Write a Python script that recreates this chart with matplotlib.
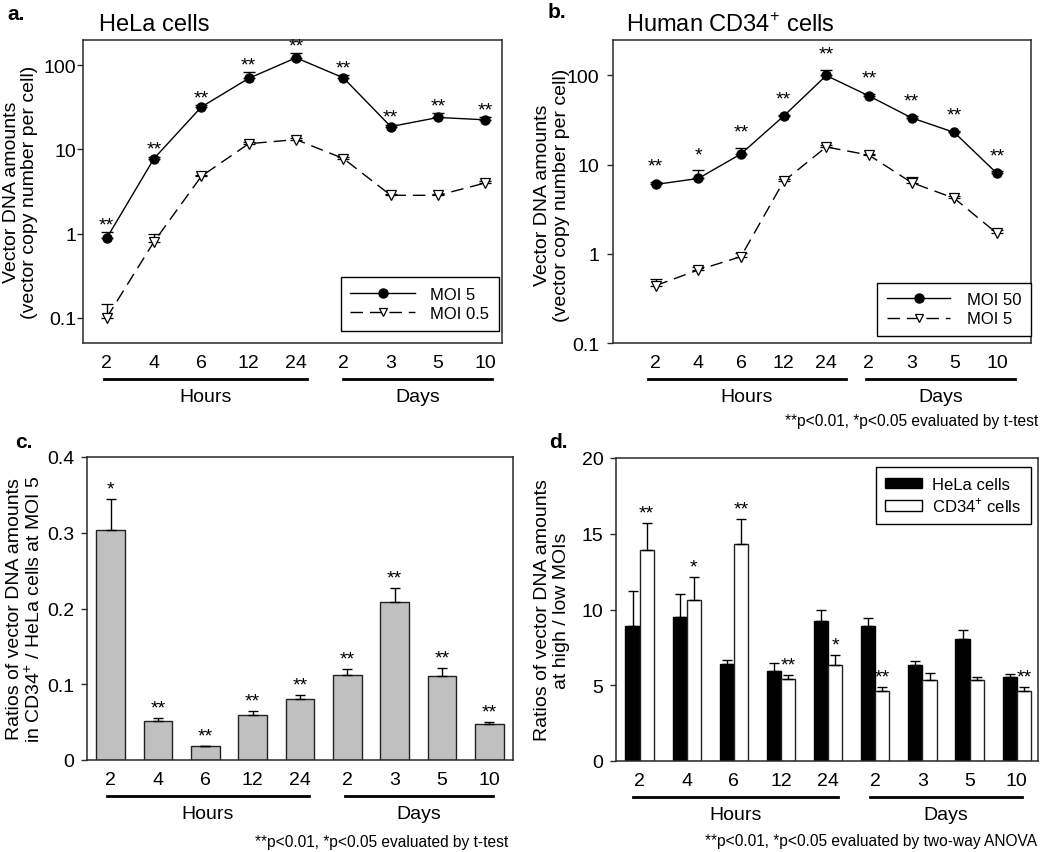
import numpy as np
import matplotlib
matplotlib.use('Agg')
import matplotlib.pyplot as plt
from matplotlib.patches import Patch
from matplotlib.lines import Line2D

plt.rcParams['font.family'] = ['Liberation Sans', 'DejaVu Sans']
plt.rcParams['mathtext.fontset'] = 'custom'
plt.rcParams['mathtext.rm'] = 'Liberation Sans'

# Time points (shared by all panels)
tick_labels = ['2', '4', '6', '12', '24', '2', '3', '5', '10']

# a. HeLa cells
hela_moi5 = [0.88, 7.8, 32, 70, 123, 71, 18.7, 24, 22.5]
hela_moi5_err = [0.15, 0.4, 1.5, 13, 18, 6, 1.0, 3.0, 1.5]
hela_moi05 = [0.1, 0.8, 4.8, 11.7, 13.1, 7.8, 2.85, 2.85, 4.0]
hela_moi05_err = [0.045, 0.2, 0.2, 0.5, 0.5, 0.3, 0.1, 0.1, 0.2]
hela_stars = ['**'] * 9

# b. Human CD34+ cells
cd34_moi50 = [6.0, 7.0, 13.2, 35, 100, 59, 33.5, 23, 8.0]
cd34_moi50_err = [0.4, 1.6, 2.2, 1.5, 16, 3.0, 1.5, 1.0, 0.4]
cd34_moi5 = [0.44, 0.66, 0.93, 6.5, 15.8, 12.8, 6.3, 4.2, 1.7]
cd34_moi5_err = [0.08, 0.05, 0.09, 0.4, 0.8, 0.5, 1.0, 0.2, 0.15]
cd34_stars = ['**', '*', '**', '**', '**', '**', '**', '**', '**']

# c. CD34+ / HeLa ratio at MOI 5
ratio_c = [0.303, 0.051, 0.018, 0.059, 0.080, 0.112, 0.209, 0.111, 0.047]
ratio_c_err = [0.042, 0.004, 0.001, 0.006, 0.006, 0.008, 0.018, 0.011, 0.003]
c_stars = ['*'] + ['**'] * 8

# d. high / low MOI ratio
hela_ratio = [8.9, 9.5, 6.4, 5.95, 9.25, 8.92, 6.35, 8.06, 5.53]
hela_ratio_err = [2.3, 1.55, 0.25, 0.52, 0.73, 0.53, 0.27, 0.6, 0.24]
cd34_ratio = [13.9, 10.6, 14.3, 5.4, 6.35, 4.65, 5.35, 5.33, 4.65]
cd34_ratio_err = [1.8, 1.55, 1.7, 0.3, 0.62, 0.26, 0.44, 0.24, 0.26]
d_stars = ['**', '*', '**', '**', '*', '**', '', '', '**']

x = np.arange(len(tick_labels))
W, H = 1050, 853
fig = plt.figure(figsize=(W / 100, H / 100), dpi=100)
spine_col = '#2a2a2a'
foot_size = 11.2


def px_axes(left, top, right, bottom):
    return fig.add_axes([left / W, 1 - bottom / H, (right - left) / W, (bottom - top) / H])


def style(ax, ypad):
    for s in ax.spines.values():
        s.set_color(spine_col)
        s.set_linewidth(1.1)
    ax.set_xticks(x)
    ax.set_xticklabels(tick_labels)
    ax.tick_params(axis='x', length=0, pad=8, labelsize=14)
    ax.tick_params(axis='y', direction='out', length=4, width=1, pad=ypad,
                   labelsize=14, color=spine_col)


def groups(ax, hours, days):
    tr = ax.transAxes
    for (a, b), name in [(hours, 'Hours'), (days, 'Days')]:
        ax.plot([a, b], [-0.118, -0.118], color='black', lw=2, transform=tr, clip_on=False)
        ax.text((a + b) / 2, -0.178, name, transform=tr, ha='center', va='center', fontsize=14)


def stars(ax, xs, tops, marks, offset):
    for xi, t, m in zip(xs, tops, marks):
        if m:
            ax.annotate(m, xy=(xi, t), xytext=(0, offset), textcoords='offset points',
                        ha='center', va='baseline', fontsize=14)


def legend(ax, handles, labels, **kw):
    leg = ax.legend(handles, labels, fontsize=12, labelspacing=0.25, borderpad=0.58,
                    fancybox=False, framealpha=1, edgecolor='black', borderaxespad=0, **kw)
    leg.get_frame().set_linewidth(1)


def line_panel(ax, y1, e1, y2, e2):
    z = np.zeros(len(x))
    ax.errorbar(x, y2, yerr=[z, e2], color='black', lw=1, ls=(0, (9, 5)),
                marker='v', ms=7, mfc='white', mec='black', mew=0.9,
                ecolor='black', elinewidth=1, capsize=4, capthick=1)
    ax.errorbar(x, y1, yerr=[z, e1], color='black', lw=1, marker='o', ms=6.5,
                mfc='black', mec='black', ecolor='black', elinewidth=1,
                capsize=4, capthick=1)
    ax.set_yscale('log')
    ax.set_yticks([0.1, 1, 10, 100])
    ax.set_yticklabels(['0.1', '1', '10', '100'])
    ax.minorticks_off()
    h1 = Line2D([], [], color='black', lw=1, marker='o', ms=6.5)
    h2 = Line2D([], [], color='black', lw=1, ls=(0, (9, 5)), marker='v', ms=6,
                mfc='white', mew=0.9)
    return [h1, h2]


# ---- a ----
axa = px_axes(83, 41, 502, 344)
ha = line_panel(axa, hela_moi5, hela_moi5_err, hela_moi05, hela_moi05_err)
axa.set_ylim(0.05, 200)
axa.set_xlim(-0.5, 8.35)
style(axa, 1)
stars(axa, x, np.array(hela_moi5) + np.array(hela_moi5_err), hela_stars, 2)
legend(axa, ha, ['MOI 5', 'MOI 0.5'], loc='lower right', bbox_to_anchor=(0.993, 0.04),
       handlelength=3.9, handletextpad=0.9)
groups(axa, (0.05, 0.535), (0.62, 0.976))
axa.text(-0.15, 0.5, 'Vector DNA amounts\n(vector copy number per cell)', transform=axa.transAxes,
         rotation=90, ha='center', va='center', fontsize=14, linespacing=1.1)
fig.text(99 / W, 1 - 25 / H, 'HeLa cells', fontsize=17, ha='left', va='center')
fig.text(7 / W, 1 - 14 / H, 'a.', fontsize=15, fontweight='bold', ha='left', va='center')

# ---- b ----
axb = px_axes(613, 41, 1031, 344)
hb = line_panel(axb, cd34_moi50, cd34_moi50_err, cd34_moi5, cd34_moi5_err)
axb.set_ylim(0.1, 250)
axb.set_xlim(-1.0, 8.8)
style(axb, 6)
stars(axb, x, np.array(cd34_moi50) + np.array(cd34_moi50_err), cd34_stars, 8)
legend(axb, hb, ['MOI 50', 'MOI 5'], loc='lower right', bbox_to_anchor=(1.0, 0.023),
       handlelength=3.8, handletextpad=1.0)
groups(axb, (0.084, 0.557), (0.605, 0.962))
axb.text(-0.146, 0.49, 'Vector DNA amounts\n(vector copy number per cell)', transform=axb.transAxes,
         rotation=90, ha='center', va='center', fontsize=14, linespacing=1.1)
fig.text(626 / W, 1 - 25 / H, 'Human CD34$^{+}$ cells', fontsize=17, ha='left', va='center')
fig.text(548 / W, 1 - 12 / H, 'b.', fontsize=15, fontweight='bold', ha='left', va='center')
fig.text(1038 / W, 1 - 422 / H, '**p<0.01, *p<0.05 evaluated by t-test', fontsize=foot_size,
         ha='right', va='center')

# ---- c ----
axc = px_axes(87, 458, 513, 761)
z = np.zeros(len(x))
axc.bar(x, ratio_c, width=0.6, color='#c0c0c0', edgecolor='#222222', lw=1,
        yerr=[z, ratio_c_err], capsize=3.5, error_kw=dict(elinewidth=1, capthick=1, ecolor='black'))
axc.set_ylim(0, 0.4)
axc.set_xlim(-0.5, 8.5)
axc.set_yticks([0, 0.1, 0.2, 0.3, 0.4])
axc.set_yticklabels(['0', '0.1', '0.2', '0.3', '0.4'])
style(axc, 5)
stars(axc, x, np.array(ratio_c) + np.array(ratio_c_err), c_stars, 4)
groups(axc, (0.047, 0.521), (0.606, 0.953))
axc.text(-0.146, 0.5, 'Ratios of vector DNA amounts\nin CD34$^{+}$ / HeLa cells at MOI 5',
         transform=axc.transAxes, rotation=90, ha='center', va='center', fontsize=14,
         linespacing=1.1)
fig.text(15 / W, 1 - 443 / H, 'c.', fontsize=15, fontweight='bold', ha='left', va='center')
fig.text(508 / W, 1 - 843 / H, '**p<0.01, *p<0.05 evaluated by t-test', fontsize=foot_size,
         ha='right', va='center')

# ---- d ----
axd = px_axes(616, 459, 1038, 762)
bw = 0.3
ek = dict(elinewidth=1, capthick=1, ecolor='black')
axd.bar(x - bw / 2, hela_ratio, width=bw, color='black', edgecolor='black', lw=1,
        yerr=[z, hela_ratio_err], capsize=3.5, error_kw=ek)
axd.bar(x + bw / 2, cd34_ratio, width=bw, color='white', edgecolor='#222222', lw=1,
        yerr=[z, cd34_ratio_err], capsize=3.5, error_kw=ek)
axd.set_ylim(0, 20)
axd.set_xlim(-0.5, 8.45)
axd.set_yticks([0, 5, 10, 15, 20])
style(axd, 5)
stars(axd, x + bw / 2, np.array(cd34_ratio) + np.array(cd34_ratio_err), d_stars, 4)
hd = [Patch(facecolor='black', edgecolor='black'),
      Patch(facecolor='white', edgecolor='black')]
legend(axd, hd, ['HeLa cells', 'CD34$^{+}$ cells'], loc='upper right',
       bbox_to_anchor=(0.983, 0.97), handlelength=2.2, handleheight=0.6, handletextpad=0.6)
groups(axd, (0.04, 0.526), (0.602, 0.962))
axd.text(-0.152, 0.5, 'Ratios of vector DNA amounts\nat high / low MOIs',
         transform=axd.transAxes, rotation=90, ha='center', va='center', fontsize=14,
         linespacing=1.1)
fig.text(549 / W, 1 - 443 / H, 'd.', fontsize=15, fontweight='bold', ha='left', va='center')
fig.text(1037 / W, 1 - 842 / H, '**p<0.01, *p<0.05 evaluated by two-way ANOVA', fontsize=foot_size,
         ha='right', va='center')

fig.savefig('out.png', dpi=100)
